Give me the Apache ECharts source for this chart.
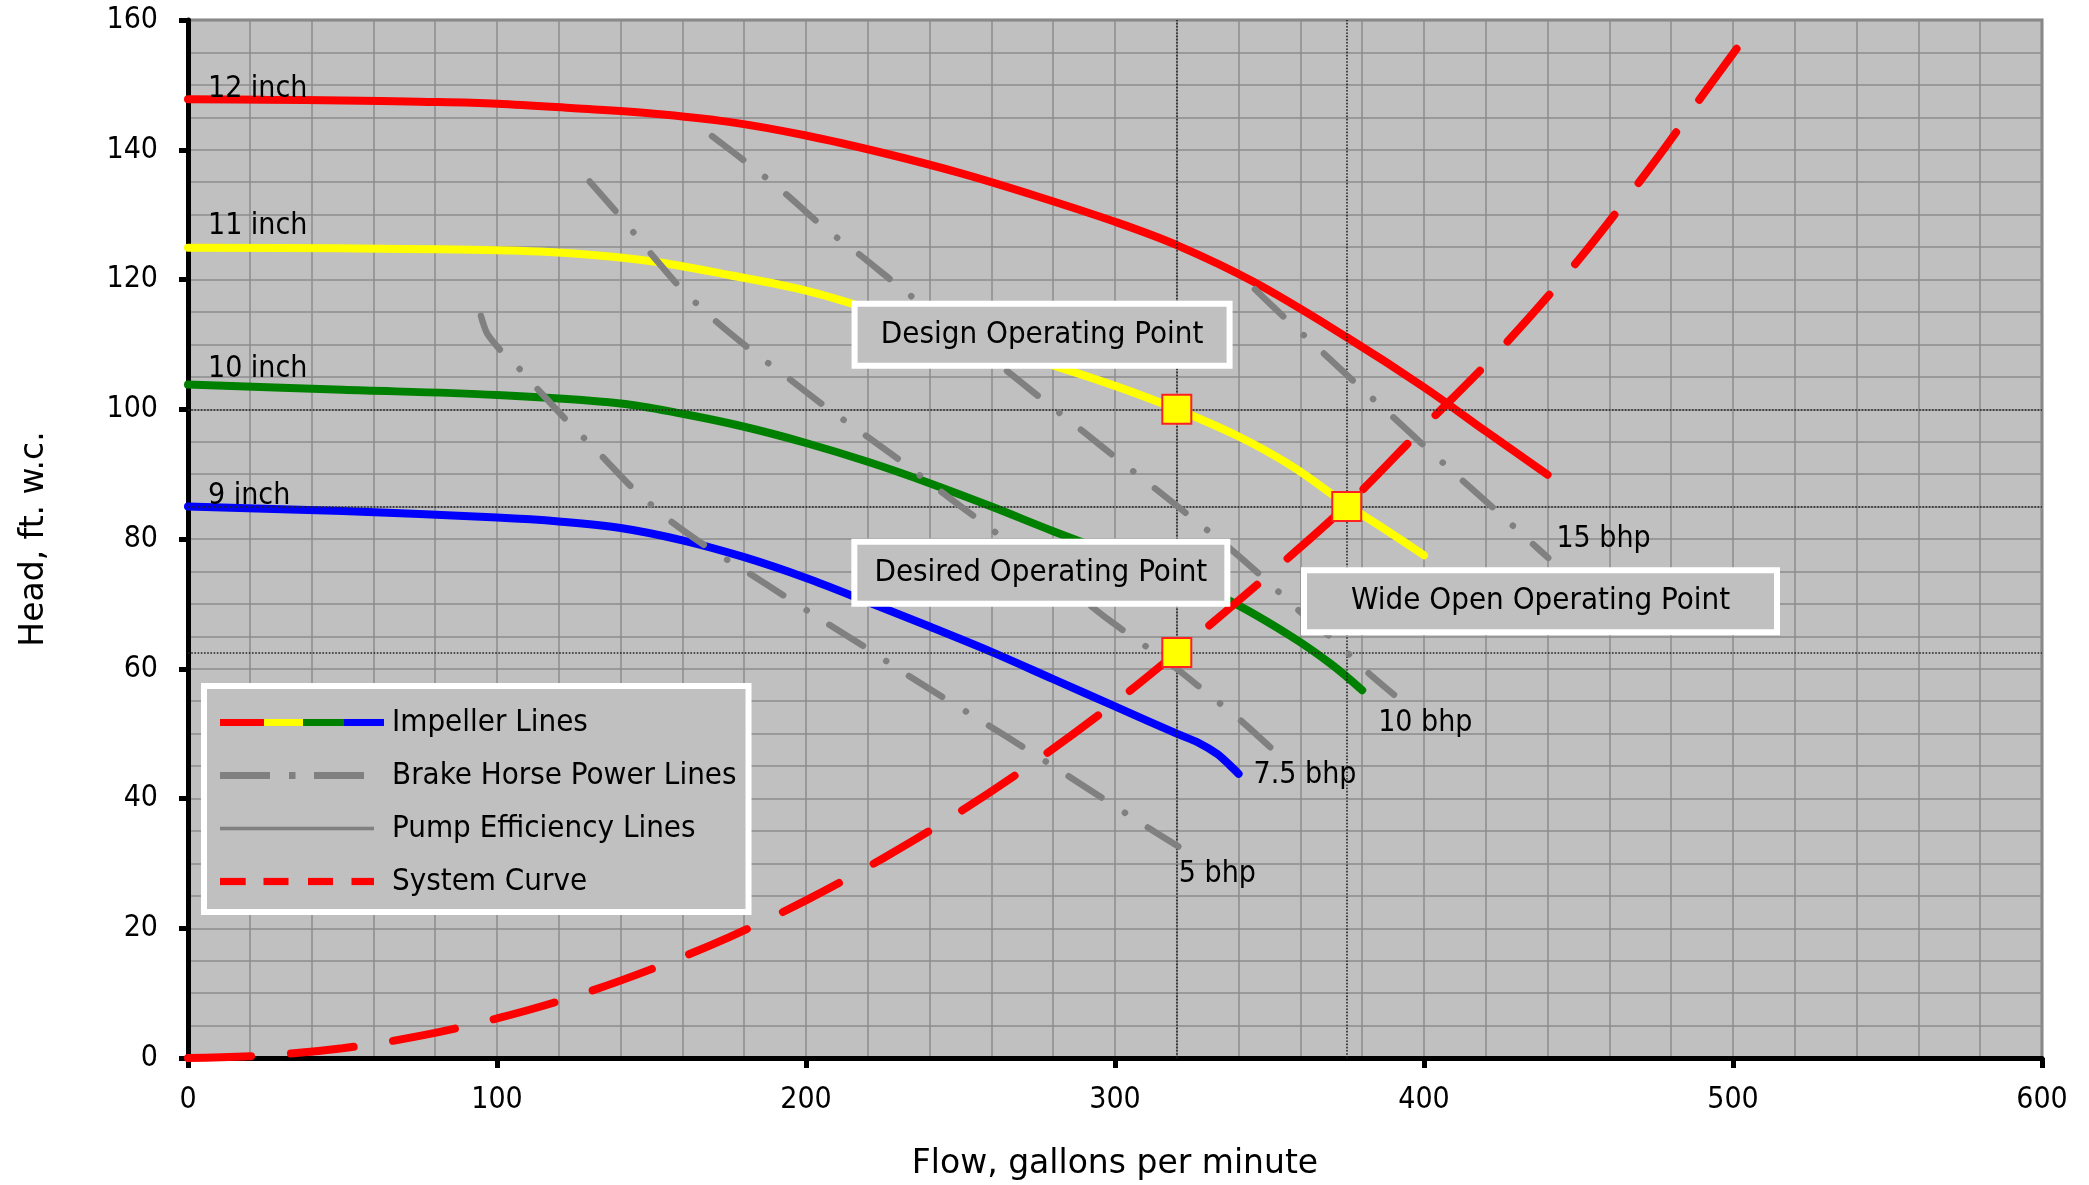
<!DOCTYPE html>
<html>
<head>
<meta charset="utf-8">
<script src="https://cdn.jsdelivr.net/npm/echarts@6/dist/echarts.min.js"></script>
<style>
html,body{margin:0;padding:0;background:#fff;}
#chart{width:2089px;height:1185px;}
</style>
</head>
<body>
<div id="chart"></div>
<script>
// ---------- data ----------
const xRange = [0, 600];
const xStep = 100;
const yRange = [0, 160];
const yStep = 20;

const imp12 = [[0,147.8],[25,147.7],[50,147.6],[75,147.4],[100,147.1],[125,146.4],[150,145.6],[175,144.3],[200,142.2],[225,139.5],[250,136.4],[275,132.8],[300,128.9],[320,125.3],[345,119.6],[375,111.1],[400,103.4],[420,96.6],[440,89.9]];
const imp11 = [[0,124.9],[50,124.8],[100,124.5],[125,124],[150,122.8],[175,120.7],[200,118.3],[225,114.8],[250,111],[275,107.5],[300,103.6],[320,100],[340,95.8],[357,91.3],[375,85.3],[388,81.3],[400,77.5]];
const imp10 = [[0,103.8],[50,103],[100,102.2],[140,100.9],[160,99.3],[180,97.3],[200,94.8],[220,91.9],[240,88.6],[260,85],[280,81.2],[300,77.6],[320,73.9],[337,70.5],[357,65],[370,60.7],[380,56.7]];
const imp9 = [[0,85],[50,84.3],[100,83.3],[120,82.7],[140,81.7],[160,79.8],[180,77.2],[200,74],[220,70.3],[240,66.5],[260,62.6],[280,58.4],[300,54.2],[320,50],[327,48.6],[333,46.9],[337,45.2],[340,43.8]];

const bhp5 = [[94.8,114.4],[96.8,111.7],[101.5,108.9],[107.3,106.2],[112.6,103.4],[122.7,98.2],[133.7,92.9],[144,87.8],[155.8,82.9],[167.9,78.8],[180.6,75],[193.4,71.1],[206.8,67],[218.9,63.4],[232,59.3],[245,55.4],[258,51.6],[271,47.7],[283.8,43.8],[296.4,39.9],[309.4,35.9],[320.5,32.6]];
const bhp75 = [[130,135.1],[139.9,129.7],[149.8,124],[159.8,118.5],[171,113.5],[182.5,109],[194.8,104.6],[206.8,100.2],[219.5,95.9],[231.6,91.7],[243.7,87.3],[255.8,83],[270,77.9],[285,72.4],[297.8,67.6],[310.7,63.2],[320,60],[328.6,56.7],[340.5,52.1],[350.7,47.7]];
const bhp10 = [[169.6,142.1],[181.7,137.7],[193.7,133.1],[205.3,128.2],[217.7,123.7],[229.1,119.3],[240,115.2],[252,110.6],[265.3,105.8],[276.8,101.4],[289.1,96.8],[300.9,92.3],[313.2,87.7],[324.8,83.3],[337,78.6],[348.3,73.9],[359.2,69.1],[371.4,64.2],[381.9,59.4],[390.3,56]];
const bhp15 = [[345.3,118.5],[356.3,113.5],[367.6,108.6],[378.6,103.7],[390.2,98.7],[400.9,94],[412.5,89],[423.8,84.2],[435.3,79.2],[440.2,77.1]];

const systemCurve = [[0,0],[25,0.4],[50,1.5],[75,3.4],[100,6.1],[125,9.5],[150,13.7],[175,18.6],[200,24.3],[225,30.8],[250,38],[275,46],[300,54.8],[320,62.5],[350,74.6],[375,85.2],[400,97.3],[425,109.4],[450,123],[475,138.4],[490,148.3],[504.3,157.6]];

const operatingPoints = [[320,100],[375,85],[320,62.5]];
const refHeads = [100, 85, 62.5];
const refFlows = [320, 375];

const curveLabelText = ['12 inch','11 inch','10 inch','9 inch','15 bhp','10 bhp','7.5 bhp','5 bhp'];
const noteText = ['Design Operating Point','Desired Operating Point','Wide Open Operating Point'];
const legendNames = ['Impeller Lines','Brake Horse Power Lines','Pump Efficiency Lines','System Curve'];

// ---------- layout (anchors in data space, sizes, styles) ----------
const curveLabelAnchor = [[6.3,149.4],[6.3,128.2],[6.3,106.2],[6.3,86.6],[442.7,80.0],[385,51.6],[344.7,43.6],[320.5,28.4]];
const noteAnchor = [[276.4,111.5],[276.0,74.8],[437.7,70.4]];
const noteWidth = [369, 367, 467];

const FONT_C = '"DejaVu Sans Condensed", "DejaVu Sans", sans-serif';
const FONT_R = '"DejaVu Sans", sans-serif';
const GRID = '#8c8c8c';
const BHP = '#808080';

function svgIcon(inner){
  return 'image://data:image/svg+xml;charset=utf-8,' + encodeURIComponent(
    "<svg xmlns='http://www.w3.org/2000/svg' width='167' height='12' viewBox='0 0 167 12'>" + inner + "</svg>");
}
const icons = [
  svgIcon("<rect x='0' y='2.5' width='44' height='7' fill='#ff0000'/><rect x='44' y='2.5' width='39' height='7' fill='#ffff00'/><rect x='83' y='2.5' width='41' height='7' fill='#008000'/><rect x='124' y='2.5' width='40' height='7' fill='#0000ff'/>"),
  svgIcon("<rect x='0' y='2.5' width='50' height='7' fill='#808080'/><rect x='69' y='2.5' width='6.5' height='7' fill='#808080'/><rect x='94' y='2.5' width='50' height='7' fill='#808080'/>"),
  svgIcon("<rect x='0' y='4.2' width='154' height='3.6' fill='#808080'/>"),
  svgIcon("<rect x='0' y='2.4' width='25.7' height='7.2' fill='#ff0000'/><rect x='43.5' y='2.4' width='25' height='7.2' fill='#ff0000'/><rect x='88' y='2.4' width='25' height='7.2' fill='#ff0000'/><rect x='131.5' y='2.4' width='22.5' height='7.2' fill='#ff0000'/>")
];

function impSeries(data, color){
  return {type:'line', name:legendNames[0], data:data, smooth:0.35, showSymbol:false, symbol:'none',
    lineStyle:{color:color, width:8, cap:'round'}, itemStyle:{color:color}, z:3, silent:true};
}
function bhpSeries(data){
  return {type:'line', name:legendNames[1], data:data, smooth:0.25, showSymbol:false, symbol:'none',
    lineStyle:{color:BHP, width:6.5, type:[39,28,0.1,27.2], cap:'round'}, itemStyle:{color:BHP}, z:5, silent:true};
}

const chart = echarts.init(document.getElementById('chart'), null, {renderer:'canvas'});
const option = {
  animation:false,
  backgroundColor:'#ffffff',
  grid:{left:188, right:47, top:20, bottom:127, show:true, backgroundColor:'#c0c0c0', borderColor:'#808080', borderWidth:3, containLabel:false, outerBoundsMode:'none'},
  legend:{
    orient:'vertical', left:204, top:686, selectedMode:false,
    data: legendNames.map((n,i)=>({name:n, icon:icons[i]})),
    itemWidth:167, itemHeight:12, itemGap:22,
    textStyle:{fontFamily:FONT_C, fontSize:31, color:'#000'},
    backgroundColor:'#c0c0c0', borderColor:'#ffffff', borderWidth:6, borderRadius:0,
    padding:[21,12,15,16]
  },
  xAxis:{
    type:'value', min:xRange[0], max:xRange[1], interval:xStep,
    name:'Flow, gallons per minute', nameLocation:'middle', nameGap:90,
    nameTextStyle:{fontFamily:FONT_R, fontSize:33, color:'#000'},
    axisLine:{show:true, onZero:false, lineStyle:{color:'#000', width:5}},
    axisTick:{show:true, length:10, lineStyle:{color:'#000', width:5}},
    axisLabel:{fontFamily:FONT_C, fontSize:30, color:'#000', margin:27},
    splitLine:{show:true, lineStyle:{color:GRID, width:1.5}},
    minorTick:{show:false, splitNumber:5},
    minorSplitLine:{show:true, lineStyle:{color:GRID, width:1.5}}
  },
  yAxis:{
    type:'value', min:yRange[0], max:yRange[1], interval:yStep,
    name:'Head, ft. w.c.', nameLocation:'middle', nameGap:137, nameRotate:90,
    nameTextStyle:{fontFamily:FONT_R, fontSize:33, color:'#000'},
    axisLine:{show:true, onZero:false, lineStyle:{color:'#000', width:5}},
    axisTick:{show:true, length:9, lineStyle:{color:'#000', width:5}},
    axisLabel:{fontFamily:FONT_C, fontSize:30, color:'#000', margin:30},
    splitLine:{show:true, lineStyle:{color:GRID, width:1.5}},
    minorTick:{show:false, splitNumber:4},
    minorSplitLine:{show:true, lineStyle:{color:GRID, width:1.5}}
  },
  series:[
    {type:'line', name:'refLines', data:[], silent:true, z:2,
      markLine:{silent:true, symbol:['none','none'], label:{show:false}, animation:false,
        lineStyle:{type:'dotted', color:'#222', width:1.6},
        data: refHeads.map(v=>({yAxis:v})).concat(refFlows.map(v=>({xAxis:v})))}},
    impSeries(imp12,'#ff0000'),
    impSeries(imp11,'#ffff00'),
    impSeries(imp10,'#008000'),
    impSeries(imp9,'#0000ff'),
    {type:'line', name:legendNames[2], data:[], showSymbol:false, lineStyle:{color:BHP, width:3.5}, itemStyle:{color:BHP}, z:3},
    {type:'line', name:legendNames[3], data:systemCurve, smooth:0.35, showSymbol:false, symbol:'none',
      lineStyle:{color:'#ff0000', width:8, type:[63,40], cap:'round'}, itemStyle:{color:'#ff0000'}, z:4, silent:true},
    bhpSeries(bhp15), bhpSeries(bhp10), bhpSeries(bhp75), bhpSeries(bhp5),
    {type:'scatter', name:'points', data:operatingPoints, symbol:'rect', symbolSize:29, z:10, silent:true,
      itemStyle:{color:'#ffff00', borderColor:'#ff2020', borderWidth:2, opacity:1}},
    {type:'scatter', name:'curveLabels', silent:true, z:11, symbolSize:1,
      itemStyle:{color:'rgba(0,0,0,0)', opacity:1},
      data: curveLabelAnchor.map((p,i)=>[p[0],p[1],curveLabelText[i]]),
      label:{show:true, position:'right', distance:0, formatter:(p)=>p.value[2],
        fontFamily:FONT_C, fontSize:30, color:'#000'}},
    {type:'scatter', name:'notes', silent:true, z:12, symbolSize:1,
      itemStyle:{color:'rgba(0,0,0,0)', opacity:1},
      data: noteAnchor.map((p,i)=>({value:[p[0],p[1],noteText[i]], label:{width:noteWidth[i]}})),
      label:{show:true, position:'inside', formatter:(p)=>p.value[2],
        fontFamily:FONT_C, fontSize:31, color:'#000', align:'center', verticalAlign:'middle',
        backgroundColor:'#c0c0c0', borderColor:'#ffffff', borderWidth:6,
        height:56, lineHeight:56, padding:0, overflow:'none'}}
  ]
};
chart.setOption(option);
</script>
</body>
</html>
